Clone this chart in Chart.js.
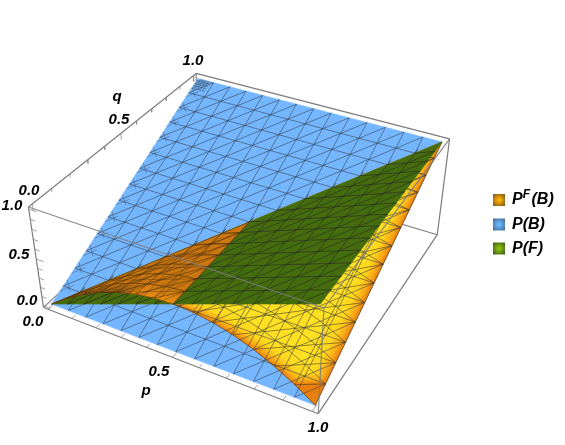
<!DOCTYPE html>
<html>
<head>
<meta charset="utf-8">
<style>
  html, body { margin: 0; padding: 0; background: #fff; }
  canvas { display: block; }
</style>
<script src="https://cdn.jsdelivr.net/npm/chart.js@4"></script>
</head>
<body>
<canvas id="chart" width="565" height="445"></canvas>
<script>
// ====== DATA ======
const gridTicks = [0, 0.071, 0.143, 0.214, 0.286, 0.357, 0.429, 0.5, 0.571, 0.643, 0.714, 0.786, 0.857, 0.929, 1];

// P(B) per q tick, P(F) per p tick
const probB = [0, 0.071, 0.143, 0.214, 0.286, 0.357, 0.429, 0.5, 0.571, 0.643, 0.714, 0.786, 0.857, 0.929, 1];
const probF = [0, 0.071, 0.143, 0.214, 0.286, 0.357, 0.429, 0.5, 0.571, 0.643, 0.714, 0.786, 0.857, 0.929, 1];

// P^F(B): one row per p tick, columns are q ticks from 0 up to q = p
const probFB = [
  [0],
  [0.133, 0.071],
  [0.245, 0.194, 0.143],
  [0.337, 0.296, 0.255, 0.214],
  [0.408, 0.378, 0.347, 0.316, 0.286],
  [0.459, 0.439, 0.418, 0.398, 0.378, 0.357],
  [0.49, 0.48, 0.469, 0.459, 0.449, 0.439, 0.429],
  [0.5, 0.5, 0.5, 0.5, 0.5, 0.5, 0.5, 0.5],
  [0.49, 0.5, 0.51, 0.52, 0.531, 0.541, 0.551, 0.561, 0.571],
  [0.459, 0.48, 0.5, 0.52, 0.541, 0.561, 0.582, 0.602, 0.622, 0.643],
  [0.408, 0.439, 0.469, 0.5, 0.531, 0.561, 0.592, 0.622, 0.653, 0.684, 0.714],
  [0.337, 0.378, 0.418, 0.459, 0.5, 0.541, 0.582, 0.622, 0.663, 0.704, 0.745, 0.786],
  [0.245, 0.296, 0.347, 0.398, 0.449, 0.5, 0.551, 0.602, 0.653, 0.704, 0.755, 0.806, 0.857],
  [0.133, 0.194, 0.255, 0.316, 0.378, 0.439, 0.5, 0.561, 0.622, 0.684, 0.745, 0.806, 0.867, 0.929],
  [0, 0.071, 0.143, 0.214, 0.286, 0.357, 0.429, 0.5, 0.571, 0.643, 0.714, 0.786, 0.857, 0.929, 1],
];

const axisTicks = [0, 0.1, 0.2, 0.3, 0.4, 0.5, 0.6, 0.7, 0.8, 0.9, 1];
const tickLabels = ["0.0", "0.5", "1.0"];
const axisNames = ["p", "q"];

// ====== CAMERA ======
// box corners (p, q, z) and where they land on the canvas, the projection is fitted to these
const LO = -0.02, HI = 1.02;
const cameraAnchors = [
  [LO, LO, LO, 44, 307],
  [HI, LO, LO, 318, 415],
  [LO, LO, HI, 28, 208],
  [LO, HI, HI, 196, 73],
  [HI, HI, HI, 450, 140],
  [HI, HI, LO, 437, 234],
  [HI, LO, HI, 324, 306],
];

function fitCamera(anchors) {
  const A = Array.from({ length: 11 }, () => new Array(12).fill(0));
  anchors.forEach(([X, Y, Z, u, v]) => {
    const rows = [
      [X, Y, Z, 1, 0, 0, 0, 0, -u * X, -u * Y, -u * Z, u],
      [0, 0, 0, 0, X, Y, Z, 1, -v * X, -v * Y, -v * Z, v],
    ];
    rows.forEach((r) => {
      for (let i = 0; i < 11; i++) for (let j = 0; j < 12; j++) A[i][j] += r[i] * r[j];
    });
  });
  for (let c = 0; c < 11; c++) {
    let best = c;
    for (let r = c + 1; r < 11; r++) if (Math.abs(A[r][c]) > Math.abs(A[best][c])) best = r;
    [A[c], A[best]] = [A[best], A[c]];
    for (let r = 0; r < 11; r++) {
      if (r === c) continue;
      const k = A[r][c] / A[c][c];
      for (let j = c; j < 12; j++) A[r][j] -= k * A[c][j];
    }
  }
  return A.map((row, i) => row[11] / row[i]);
}

const cam = fitCamera(cameraAnchors);

function project(p, q, z) {
  const w = cam[8] * p + cam[9] * q + cam[10] * z + 1;
  return {
    x: (cam[0] * p + cam[1] * q + cam[2] * z + cam[3]) / w,
    y: (cam[4] * p + cam[5] * q + cam[6] * z + cam[7]) / w,
  };
}

// ====== DATASET HELPERS ======
const canvasCtx = document.getElementById("chart").getContext("2d");
const datasets = [];
const GAP = { x: NaN, y: NaN };

function addFace(points, color) {
  const data = points.map((v) => project(v[0], v[1], v[2]));
  data.push(data[0]);
  datasets.push({
    data,
    showLine: true,
    fill: "shape",
    backgroundColor: color,
    borderColor: color,
    borderWidth: 0.6,
    pointRadius: 0,
  });
}

function addLines(lines, color, width) {
  const data = [];
  lines.forEach((line) => {
    line.forEach((v) => data.push(project(v[0], v[1], v[2])));
    data.push(GAP);
  });
  datasets.push({
    data,
    showLine: true,
    fill: false,
    borderColor: color,
    borderWidth: width,
    pointRadius: 0,
  });
}

function rampColor(ramp, s) {
  let k = 0;
  while (k < ramp.length - 2 && s > ramp[k + 1][0]) k++;
  const [s0, a] = ramp[k];
  const [s1, b] = ramp[k + 1];
  const f = Math.min(1, Math.max(0, (s - s0) / (s1 - s0)));
  const c = a.map((v, i) => Math.round(v + (b[i] - v) * f));
  return `rgb(${c[0]},${c[1]},${c[2]})`;
}

// smooth shading over one triangle: a linear gradient along the direction the shade changes
function shadedFill(verts, shades, ramp) {
  const [a, b, c] = verts.map((v) => project(v[0], v[1], v[2]));
  const dx1 = b.x - a.x, dy1 = b.y - a.y, ds1 = shades[1] - shades[0];
  const dx2 = c.x - a.x, dy2 = c.y - a.y, ds2 = shades[2] - shades[0];
  const det = dx1 * dy2 - dx2 * dy1;
  const gx = (ds1 * dy2 - ds2 * dy1) / det;
  const gy = (dx1 * ds2 - dx2 * ds1) / det;
  const g2 = gx * gx + gy * gy;
  if (!isFinite(g2) || g2 < 1e-9) return rampColor(ramp, shades[0]);
  const x0 = a.x - (shades[0] * gx) / g2, y0 = a.y - (shades[0] * gy) / g2;
  const grad = canvasCtx.createLinearGradient(x0, y0, x0 + gx / g2, y0 + gy / g2);
  ramp.forEach(([s, col]) => grad.addColorStop(s, `rgb(${col[0]},${col[1]},${col[2]})`));
  return grad;
}

const t = gridTicks;
const N = gridTicks.length - 1;
const MID = 7;

// ====== MESH LINES ======
function blueMesh() {
  const lines = [];
  for (let i = 1; i < N; i++) {
    lines.push([[t[i], 0, probB[0]], [t[i], 1, probB[N]]]);
    lines.push([[0, t[i], probB[i]], [1, t[i], probB[i]]]);
    lines.push([[t[i], 0, probB[0]], [1, t[N - i], probB[N - i]]]);
    lines.push([[0, t[i], probB[i]], [t[N - i], 1, probB[N]]]);
  }
  return lines;
}

// short dark spurs where the sheets run into the left edge and the far corner
function blueSpurs() {
  const lines = [];
  for (let j = 1; j < N; j++) {
    const z = probB[j];
    lines.push([[0, t[j] + 0.025, z + 0.025], [0.035, t[j] - 0.01, z - 0.01]]);
    lines.push([[0, t[j] - 0.02, z - 0.02], [0.035, t[j] + 0.015, z + 0.015]]);
  }
  [0.012, 0.024, 0.036, 0.048].forEach((d) => {
    lines.push([[0, 1 - d, 1 - d], [d + 0.015, 1, 1]]);
    lines.push([[d, 0.95, 0.95], [d, 1, 1]]);
    lines.push([[0, 1 - d, 1 - d], [0.06, 1 - d, 1 - d]]);
  });
  return lines;
}

function greenMesh(from, to) {
  const lines = [];
  for (let i = Math.max(from, 1); i <= Math.min(to, N - 1); i++) {
    lines.push([[t[i], 0, probF[i]], [t[i], t[i] + 0.03, probF[i]]]);
  }
  for (let j = 1; j < N; j++) {
    const start = Math.max(j, from);
    if (start < to) lines.push([[t[start], t[j], probF[start]], [t[to], t[j], probF[to]]]);
  }
  for (let k = 1; k < N; k++) {
    const start = Math.max(k, from);
    if (start < to) lines.push([[t[start], t[start - k], probF[start]], [t[to], t[to - k], probF[to]]]);
  }
  return lines;
}

function fbMesh(from, to) {
  const lines = [];
  for (let i = Math.max(from, 1); i <= to; i++) {
    lines.push(probFB[i].map((z, j) => [t[i], t[j], z]));
  }
  for (let j = 0; j <= to; j++) {
    const line = [];
    for (let i = Math.max(j, from); i <= to; i++) line.push([t[i], t[j], probFB[i][j]]);
    if (line.length > 1) lines.push(line);
  }
  for (let k = 0; k <= to; k++) {
    const line = [];
    for (let i = Math.max(k, from); i <= to; i++) line.push([t[i], t[i - k], probFB[i][i - k]]);
    if (line.length > 1) lines.push(line);
  }
  return lines;
}

// ====== P^F(B) FACETS ======
const YELLOW_RAMP = [
  [0, [232, 126, 14]],
  [0.22, [250, 172, 22]],
  [0.55, [255, 216, 30]],
  [1, [255, 224, 34]],
];
const ORANGE_RAMP = [
  [0, [236, 142, 16]],
  [0.5, [203, 118, 14]],
  [1, [140, 84, 16]],
];

function addFbFaces(from, to, shadeOf, ramp) {
  const vert = (i, j) => [t[i], t[j], probFB[i][j]];
  for (let i = from; i < to; i++) {
    for (let j = 0; j <= i; j++) {
      const tri = [[i, j], [i + 1, j], [i + 1, j + 1]];
      addFace(tri.map((v) => vert(v[0], v[1])), shadedFill(tri.map((v) => vert(v[0], v[1])), tri.map((v) => shadeOf(v[0], v[1])), ramp));
      if (j < i) {
        const tri2 = [[i, j], [i + 1, j + 1], [i, j + 1]];
        addFace(tri2.map((v) => vert(v[0], v[1])), shadedFill(tri2.map((v) => vert(v[0], v[1])), tri2.map((v) => shadeOf(v[0], v[1])), ramp));
      }
    }
  }
}

function yellowShade(i, j) {
  return j === 0 || i === N ? 0 : 1;
}

function orangeShade(i, j) {
  if (j === 0) return i <= 4 ? 1 : 0;
  return 0.5;
}

// ====== BOX ======
const backEdges = [
  [[LO, LO, LO], [LO, HI, LO]],
  [[LO, HI, LO], [HI, HI, LO]],
  [[LO, HI, LO], [LO, HI, HI]],
];
const outerEdges = [
  [[LO, LO, LO], [HI, LO, LO]],
  [[HI, LO, LO], [HI, HI, LO]],
  [[HI, HI, LO], [HI, HI, HI]],
  [[HI, HI, HI], [LO, HI, HI]],
  [[LO, HI, HI], [LO, LO, HI]],
  [[LO, LO, HI], [LO, LO, LO]],
];
const frontEdges = [
  [[LO, LO, HI], [HI, LO, HI]],
  [[HI, LO, HI], [HI, HI, HI]],
  [[HI, LO, HI], [HI, LO, LO]],
];

function axisTickLines() {
  const lines = [];
  axisTicks.forEach((v, i) => {
    const major = i % 5 === 0;
    lines.push([[v, LO, LO], [v, LO + (major ? 0.035 : 0.02), LO]]);
    lines.push([[LO, v, HI], [LO, v, HI - (major ? 0.065 : 0.035)]]);
    lines.push([[LO, LO, v], [LO + (major ? 0.03 : 0.02), LO, v]]);
  });
  return lines;
}

// ====== BUILD, FIRST IN THE LIST IS PAINTED FIRST ======
const BOX = "#7d7d7d";
const MESH = "rgba(48,54,66,0.64)";

addLines(backEdges, BOX, 1.1);
addFace([[0, 0, probB[0]], [1, 0, probB[0]], [1, 1, probB[N]], [0, 1, probB[N]]], "#75b7ff");
addFbFaces(MID, N, yellowShade, YELLOW_RAMP);
addLines(fbMesh(MID, N), "rgba(60,52,30,0.68)", 0.8);
addLines(blueMesh(), MESH, 0.85);
addLines(blueSpurs(), "rgba(48,54,66,0.5)", 0.7);
addFace([[0, 0, probF[0]], [1, 0, probF[N]], [1, 1, probF[N]]], "#456c0d");
addLines(greenMesh(0, N), "rgba(40,45,38,0.72)", 0.85);
addFbFaces(0, MID, orangeShade, ORANGE_RAMP);
addLines(fbMesh(0, MID), "rgba(70,45,15,0.7)", 0.8);
addLines(greenMesh(0, MID), "rgba(50,40,20,0.4)", 0.8);
addLines(outerEdges, BOX, 1.2);
addLines(frontEdges, "rgba(125,125,125,0.9)", 1.2);
addLines(axisTickLines(), "#8c8c8c", 0.8);

// ====== TEXT AND LEGEND ======
const FONT = "bold italic 15px 'Liberation Sans', Arial, sans-serif";
const LEGEND_FONT = "bold italic 16px 'Liberation Sans', Arial, sans-serif";

const textLayer = {
  id: "textLayer",
  afterDraw(chart) {
    const { ctx, scales } = chart;
    const at = (x, y) => [scales.x.getPixelForValue(x), scales.y.getPixelForValue(y)];
    const put = (s, x, y, align) => {
      const [px, py] = at(x, y);
      ctx.textAlign = align || "center";
      ctx.fillText(s, px, py);
    };
    ctx.save();
    ctx.fillStyle = "#000";
    ctx.font = FONT;
    ctx.textBaseline = "middle";

    // z axis
    put(tickLabels[2], 12, 206);
    put(tickLabels[1], 19, 255);
    put(tickLabels[0], 27, 301);
    // q axis
    put(tickLabels[0], 29, 191);
    put(tickLabels[1], 119, 120);
    put(tickLabels[2], 193, 61);
    put(axisNames[1], 117, 97);
    // p axis
    put(tickLabels[0], 33, 322);
    put(tickLabels[1], 159, 372);
    put(tickLabels[2], 318, 428);
    put(axisNames[0], 146, 391);

    // legend
    const rows = [
      { y: 200, base: "P", sup: "F", rest: "(B)", hi: "#ffb000", lo: "#7d5a1e" },
      { y: 224.5, base: "P", sup: "", rest: "(B)", hi: "#66b8ff", lo: "#44688f" },
      { y: 248.5, base: "P", sup: "", rest: "(F)", hi: "#86c010", lo: "#3f5a1c" },
    ];
    rows.forEach((r) => {
      const [sx, sy] = at(499, r.y);
      const grad = ctx.createRadialGradient(sx, sy, 1, sx, sy, 8);
      grad.addColorStop(0, r.hi);
      grad.addColorStop(1, r.lo);
      ctx.fillStyle = grad;
      ctx.fillRect(sx - 6, sy - 6, 12, 12);
      ctx.fillStyle = "#000";
      ctx.font = LEGEND_FONT;
      ctx.textAlign = "left";
      let [x, y] = at(512, r.y);
      ctx.fillText(r.base, x, y);
      x += ctx.measureText(r.base).width;
      if (r.sup) {
        ctx.font = "bold italic 12px 'Liberation Sans', Arial, sans-serif";
        ctx.fillText(r.sup, x, y - 5);
        x += ctx.measureText(r.sup).width + 1.5;
        ctx.font = LEGEND_FONT;
      }
      ctx.fillText(r.rest, x, y);
    });
    ctx.restore();
  },
};

// ====== CHART ======
// Chart.js paints the first dataset last, so the list is flipped
new Chart(canvasCtx, {
  type: "scatter",
  data: { datasets: datasets.reverse() },
  plugins: [textLayer],
  options: {
    responsive: false,
    animation: false,
    layout: { padding: 0 },
    plugins: { legend: { display: false }, tooltip: { enabled: false } },
    elements: { line: { tension: 0, borderJoinStyle: "round" } },
    scales: {
      x: { type: "linear", min: 0, max: 565, display: false },
      y: { type: "linear", min: 0, max: 445, reverse: true, display: false },
    },
  },
});
</script>
</body>
</html>
